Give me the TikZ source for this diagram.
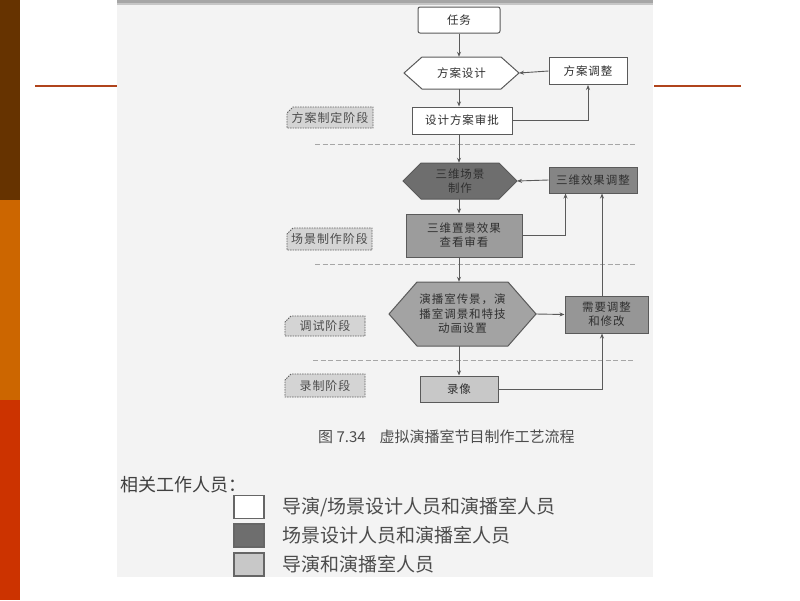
\documentclass[tikz,border=0pt]{standalone}
\usepackage{fontspec}
\newfontfamily\cjk{Noto Sans CJK SC}
\newfontfamily\cjkw[LetterSpace=8]{Noto Sans CJK SC}
\usetikzlibrary{shapes.misc,calc,arrows.meta}
\definecolor{brownbar}{HTML}{663300}
\definecolor{orangebar}{HTML}{CC6600}
\definecolor{redbar}{HTML}{CC3300}
\definecolor{rust}{HTML}{B0441C}
\definecolor{figbg}{HTML}{F3F3F3}
\definecolor{boxline}{HTML}{5A5A5A}
\definecolor{conn}{HTML}{5A5A5A}
\definecolor{txt}{HTML}{303030}
\definecolor{fdark}{HTML}{6E6E6E}
\definecolor{fmid}{HTML}{858585}
\definecolor{fck}{HTML}{9C9C9C}
\definecolor{fyb}{HTML}{A3A3A3}
\definecolor{fxy}{HTML}{969696}
\definecolor{flight}{HTML}{C8C8C8}
\definecolor{fstage}{HTML}{D4D4D4}
\newcommand\myhex[7]{%
  \path #2 coordinate (#1-c);
  \filldraw[fill=#6,draw=boxline,line width=1pt]
    ($(#1-c)+({-(#3)/2},{-(#4)/2})$) -- ($(#1-c)+({(#3)/2},{-(#4)/2})$)
    -- ($(#1-c)+({(#3)/2+(#5)},0)$) coordinate (#1-e)
    -- ($(#1-c)+({(#3)/2},{(#4)/2})$) -- ($(#1-c)+({-(#3)/2},{(#4)/2})$)
    -- ($(#1-c)+({-(#3)/2-(#5)},0)$) coordinate (#1-w) -- cycle;
  \node[hexin,minimum width=#3,minimum height=#4] (#1) at (#1-c) {#7};
}
\begin{document}
\begin{tikzpicture}[x=1pt,y=-1pt,
  box/.style={draw=boxline,line width=1pt,inner sep=0pt,align=center,text=txt,
    font=\cjkw\fontsize{11.5}{14}\selectfont},
  hexin/.style={inner sep=0pt,align=center,text=txt,font=\cjkw\fontsize{11.5}{14.5}\selectfont},
  stage/.style={chamfered rectangle,chamfered rectangle corners=north west,
    chamfered rectangle xsep=3pt,chamfered rectangle ysep=3pt,
    draw=gray!75!black,dashed,dash pattern=on 1.5pt off 1pt,line width=0.8pt,
    fill=fstage,text=black!70,inner sep=0pt,font=\cjkw\fontsize{12}{14}\selectfont},
  arr/.style={-{Stealth[length=5pt,width=4pt]},draw=conn,line width=0.9pt},
  sep/.style={draw=gray!70,line width=1pt,dash pattern=on 5pt off 2.5pt},
  leg/.style={draw=gray!80!black,line width=1.2pt,minimum width=30pt,minimum height=23pt,inner sep=0pt},
  legtxt/.style={anchor=west,inner sep=0pt,text=black!70,font=\cjk\fontsize{19}{22}\selectfont}
]
\useasboundingbox (0,0) rectangle (800,600);
\fill[white] (0,0) rectangle (800,600);
% slide decoration
\fill[brownbar] (0,0) rectangle (20,200);
\fill[orangebar] (0,200) rectangle (20,400);
\fill[redbar] (0,400) rectangle (20,600);
\draw[rust,line width=2pt] (35,86) -- (117,86);
\draw[rust,line width=2pt] (654,86) -- (741,86);
% figure area
\fill[figbg] (117,0) rectangle (653,577);
\fill[gray!70] (117,0) rectangle (653,3);
\fill[gray!45] (117,3) rectangle (653,5);
\coordinate (ax2) at (602,0);
% stage 1
\node[box,fill=white,rounded corners=2pt,minimum width=82pt,minimum height=26pt] (rw) at (459,20) {任务};
\myhex{fa}{(461.5,73)}{79}{32}{18}{white}{方案设计}
\node[box,fill=white,minimum width=78pt,minimum height=27pt] (tz) at (588,71) {方案调整};
\node[box,fill=white,minimum width=100pt,minimum height=27pt] (sp) at (462,120.5) {设计方案审批};
\node[stage,minimum width=86pt,minimum height=21pt] (s1) at (330,117.5) {方案制定阶段};
\draw[sep] (315,144) -- (637,144);
% stage 2
\myhex{cj}{(460,181)}{78}{36}{18}{fdark}{三维场景\\制作}
\node[box,fill=fmid,minimum width=88pt,minimum height=26pt] (xg) at (593,180) {三维效果调整};
\node[box,fill=fck,minimum width=116pt,minimum height=43pt] (ck) at (464,235.5) {三维置景效果\\查看审看};
\node[stage,minimum width=85pt,minimum height=22pt] (s2) at (329.5,239) {场景制作阶段};
\draw[sep] (315,264) -- (637,264);
% stage 3
\myhex{yb}{(462.5,314)}{91}{64}{28}{fyb}{演播室传景，演\\播室调景和特技\\动画设置}
\node[box,fill=fxy,minimum width=83pt,minimum height=37pt] (xy) at (606.5,314.5) {需要调整\\和修改};
\node[stage,minimum width=80pt,minimum height=20pt] (s3) at (325,326) {调试阶段};
\draw[sep] (313,360) -- (635,360);
% stage 4
\node[box,fill=flight,minimum width=78pt,minimum height=26pt] (ly) at (459,389) {录像};
\node[stage,minimum width=80pt,minimum height=23pt] (s4) at (325,385.5) {录制阶段};
% connectors
\draw[arr] (rw.south) -- (rw.south |- fa.north);
\draw[arr] (rw.south |- fa.south) -- (rw.south |- sp.north);
\draw[arr] (tz.west) -- (fa-e);
\draw[arr] (sp.east) -| (tz.south);
\draw[arr] (rw.south |- sp.south) -- (rw.south |- cj.north);
\draw[arr] (rw.south |- cj.south) -- (rw.south |- ck.north);
\draw[arr] (xg.west) -- (cj-e);
\draw[arr] (ck.east) -| ($(xg.south west)+(17,0)$);
\draw[arr] (rw.south |- ck.south) -- (rw.south |- yb.north);
\draw[arr] (yb-e) -- (xy.west);
\draw[arr] (ax2 |- xy.north) -- (ax2 |- xg.south);
\draw[arr] (rw.south |- yb.south) -- (rw.south |- ly.north);
\draw[arr] (ly.east) -| (ax2 |- xy.south);
% caption and legend
\node[anchor=west,inner sep=0pt,text=black!70,font=\cjk\fontsize{15}{18}\selectfont] (cap) at (318,437) {图 7.34\hspace{14pt}虚拟演播室节目制作工艺流程};
\node[anchor=west,inner sep=0pt,text=black!75,font=\cjk\fontsize{18}{21}\selectfont] (rel) at (120,485) {相关工作人员：};
\node[leg,fill=white] (l1) at (249,507) {};
\node[leg,fill=fdark] (l2) at (249,535.5) {};
\node[leg,fill=flight] (l3) at (249,564.5) {};
\node[legtxt] (t1) at (282,507) {导演/场景设计人员和演播室人员};
\node[legtxt] (t2) at (282,535.5) {场景设计人员和演播室人员};
\node[legtxt] (t3) at (282,564.5) {导演和演播室人员};
\end{tikzpicture}
\end{document}
